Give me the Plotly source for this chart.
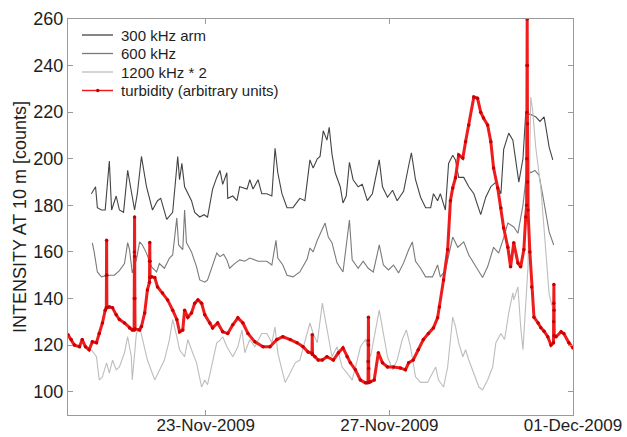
import numpy as np
import pandas as pd
import plotly.graph_objects as go

# ---- data (time in day-of-November 2009, fractional) ----
a300_day = [20.51, 20.60, 20.64, 20.73, 20.81, 20.90, 20.95, 21.01, 21.05, 21.12, 21.21, 21.30, 21.36, 21.45, 21.51,
            21.60, 21.71, 21.84, 21.95, 22.02, 22.15, 22.28, 22.39, 22.43, 22.48, 22.54, 22.69, 22.76, 22.87, 22.96,
            23.04, 23.15, 23.24, 23.31, 23.37, 23.46, 23.48, 23.59, 23.68, 23.74, 23.90, 23.96, 24.03, 24.14, 24.22,
            24.33, 24.44, 24.51, 24.57, 24.66, 24.77, 24.90, 25.05, 25.16, 25.27, 25.34, 25.43, 25.49, 25.56, 25.64,
            25.69, 25.75, 25.82, 25.93, 25.99, 26.06, 26.13, 26.21, 26.32, 26.41, 26.52, 26.63, 26.78, 26.85, 26.96,
            27.07, 27.17, 27.31, 27.42, 27.48, 27.57, 27.68, 27.79, 27.90, 27.96, 28.05, 28.11, 28.22, 28.29, 28.38,
            28.44, 28.51, 28.62, 28.73, 28.84, 28.99, 29.10, 29.21, 29.32, 29.43, 29.49, 29.60, 29.69, 29.75, 29.82,
            29.91, 29.97, 30.08, 30.19, 30.28, 30.37, 30.41, 30.48, 30.56]
a300_val = [185, 188, 179, 178, 178, 199, 178, 182, 184, 178, 177, 195, 188, 178, 185,
            201, 188, 178, 182, 183, 174, 177, 201, 191, 198, 188, 182, 177, 175, 176,
            175, 187, 192, 195, 189, 194, 183, 184, 182, 188, 187, 191, 187, 191, 185,
            185, 184, 204.5, 194, 185, 179, 179, 183, 182, 199.5, 196, 200, 201, 212, 208,
            213.5, 202, 194, 188, 181, 184, 198.5, 191, 188, 189, 182, 185, 199.5, 188, 183.5,
            186.5, 182, 186, 197, 202.5, 191, 183.5, 179, 179, 185, 182, 185, 178, 198, 201.5,
            199.5, 192, 192, 188, 185, 176, 183.5, 188, 190, 185, 204, 211, 208, 199.5, 190,
            200, 219.5, 219, 218, 216, 218, 213.5, 205, 199.5]

a600_day = [20.53, 20.57, 20.64, 20.73, 20.86, 21.01, 21.12, 21.23, 21.30, 21.34, 21.40, 21.49, 21.56, 21.62, 21.71,
            21.82, 21.93, 21.99, 22.10, 22.21, 22.28, 22.37, 22.41, 22.50, 22.54, 22.58, 22.69, 22.80, 22.87, 22.98,
            23.04, 23.15, 23.24, 23.31, 23.39, 23.46, 23.52, 23.63, 23.74, 23.85, 23.96, 24.14, 24.33, 24.44, 24.53,
            24.57, 24.68, 24.77, 24.90, 25.05, 25.21, 25.27, 25.34, 25.43, 25.54, 25.60, 25.67, 25.75, 25.86, 25.99,
            26.13, 26.19, 26.32, 26.43, 26.54, 26.65, 26.78, 26.87, 26.98, 27.09, 27.20, 27.31, 27.42, 27.50, 27.57,
            27.68, 27.79, 27.94, 28.05, 28.11, 28.22, 28.38, 28.49, 28.62, 28.73, 28.88, 29.03, 29.14, 29.27, 29.38,
            29.49, 29.58, 29.71, 29.80, 29.91, 30.00, 30.08, 30.17, 30.26, 30.34, 30.41, 30.48, 30.58]
a600_val = [163.9, 160, 151.4, 149.3, 150, 150, 152, 155, 164, 161, 151, 156.6, 164.3, 163, 159.5,
            153.6, 151.4, 155, 153, 157.4, 158.7, 174.6, 163, 161, 178, 164, 160, 153.6, 148, 147,
            148, 154.4, 159.5, 158, 159, 156.6, 153, 155, 156.6, 156, 157.4, 156, 156, 154.4, 165,
            157.4, 154.4, 150, 149.3, 151.4, 157, 161.7, 160, 165, 170, 172.4, 166.4, 164, 155.3, 151.4,
            173.7, 156.6, 153, 156, 153, 151.4, 163, 154.4, 152.3, 154.4, 151, 155.3, 160.9, 164.3, 156,
            153, 149.3, 149.3, 154.4, 149.3, 152, 166.4, 162, 164.3, 158.7, 153.6, 149, 153.6, 162, 159.5,
            166, 172.4, 170.7, 168, 180, 196, 194, 195, 193, 184.5, 176, 168.6, 163]

a1200_day = [20.51, 20.62, 20.68, 20.75, 20.84, 20.90, 20.97, 21.05, 21.12, 21.23, 21.30, 21.38, 21.40, 21.49, 21.56,
             21.62, 21.73, 21.89, 21.99, 22.10, 22.21, 22.28, 22.37, 22.43, 22.54, 22.61, 22.69, 22.80, 22.91, 22.98,
             23.04, 23.15, 23.24, 23.31, 23.37, 23.46, 23.59, 23.70, 23.79, 23.85, 23.96, 24.07, 24.22, 24.33, 24.44,
             24.51, 24.57, 24.66, 24.73, 24.84, 24.95, 25.05, 25.16, 25.27, 25.34, 25.43, 25.54, 25.60, 25.64, 25.75,
             25.86, 25.97, 26.08, 26.19, 26.30, 26.37, 26.48, 26.59, 26.78, 26.87, 26.96, 27.07, 27.17, 27.28, 27.37,
             27.46, 27.57, 27.68, 27.83, 27.94, 28.01, 28.07, 28.18, 28.27, 28.38, 28.44, 28.51, 28.60, 28.66, 28.73,
             28.84, 28.95, 29.03, 29.14, 29.25, 29.32, 29.43, 29.51, 29.60, 29.69, 29.71, 29.80, 29.86, 29.91, 30.02,
             30.08, 30.12, 30.19, 30.30, 30.39, 30.43, 30.48, 30.54]
a1200_val = [118, 115, 105, 106.4, 112.4, 108, 113.6, 109.4, 110.6, 116.7, 123.6, 115, 105, 125, 127.8,
             122.4, 113.6, 105, 109.4, 113.6, 122.4, 131, 123.6, 118, 115, 122.4, 118, 112.4, 102, 105,
             103, 112.4, 121, 122, 123.6, 119.3, 115, 119.3, 126.5, 116.7, 122.4, 119.3, 125, 125, 121,
             127.8, 116.7, 109.4, 104, 108, 112.4, 113.6, 121, 129.5, 125, 121, 138, 131, 128, 115,
             119.3, 110.6, 108, 105, 113.6, 119.3, 122.4, 115, 135, 125, 115, 109.4, 113.6, 122.4, 126.5,
             119.3, 106.4, 104, 104, 108, 110.6, 105, 102, 110.6, 132, 128, 121, 115, 118, 113.6,
             108, 102, 100.8, 105, 110.6, 121, 125, 122.4, 133.8, 142.4, 139.4, 145, 128, 118, 153.6,
             226.5, 221, 204.6, 187.5, 165, 155, 142, 137]

turb_day = [20.00, 20.07, 20.14, 20.25, 20.31, 20.38, 20.46, 20.53, 20.62, 20.68, 20.75, 20.81,
            20.835, 20.838, 20.841, 20.844, 20.847,
            20.90, 20.97, 21.05, 21.12, 21.23, 21.34, 21.40,
            21.440, 21.444, 21.447, 21.450, 21.453, 21.456, 21.460,
            21.56, 21.60, 21.67, 21.73,
            21.775, 21.778, 21.781, 21.784, 21.787,
            21.82, 21.89, 21.95, 22.06, 22.17, 22.28, 22.37, 22.43, 22.50, 22.54, 22.61, 22.69, 22.76, 22.83,
            22.91, 22.98, 23.09, 23.15, 23.26, 23.37, 23.48, 23.59, 23.70, 23.81, 23.92, 24.07, 24.25, 24.40,
            24.55, 24.68, 24.84, 24.99, 25.12, 25.23,
            25.315, 25.320, 25.325,
            25.38, 25.45, 25.54, 25.64, 25.78, 25.89, 25.99, 26.08, 26.15, 26.26, 26.37, 26.48,
            26.535, 26.538, 26.541, 26.544, 26.547, 26.550, 26.553,
            26.59, 26.67, 26.76, 26.85, 26.96, 27.09, 27.24, 27.35, 27.42, 27.52, 27.63, 27.74, 27.85, 27.96,
            28.05, 28.09, 28.18, 28.27, 28.33, 28.38, 28.44, 28.51, 28.60, 28.66, 28.73, 28.84, 28.92, 28.99,
            29.05, 29.14, 29.21, 29.27, 29.36, 29.43, 29.49, 29.58, 29.64, 29.71, 29.80, 29.86, 29.93, 29.97,
            29.990, 29.993, 29.996, 29.999, 30.002, 30.005, 30.008, 30.011,
            30.02, 30.06, 30.10, 30.15, 30.24, 30.30, 30.37, 30.45, 30.52,
            30.575, 30.578, 30.581, 30.584, 30.587, 30.590,
            30.63, 30.74, 30.80, 30.91, 31.00]
turb_val = [124.4, 122.4, 120, 119.3, 122.4, 119.3, 118, 121.4, 121, 125, 129.5, 135,
            136, 150, 165, 150, 136,
            136.4, 136, 133, 131, 129.5, 127.4, 126.5,
            126.5, 140, 160, 175, 158, 140, 127,
            126.5, 128, 133.8, 143.7,
            147, 156, 164, 156, 149,
            149.3, 149, 145, 142.4, 139.4, 135, 131, 125.7, 126.5, 135, 132, 133.8, 138, 139.4,
            138, 133, 129.5, 127.4, 129.5, 125.7, 125, 128.7, 131.7, 129.5, 125, 121.4, 119.3, 119.3,
            122.4, 123.6, 122.4, 121, 119.3, 117,
            116.5, 124.4, 116,
            115, 113.6, 113.6, 115, 113.6, 116.7, 118.8, 115, 112.4, 109.4, 105, 103.8,
            104, 113, 122, 132, 120, 110, 104,
            104.3, 105, 116.7, 112.4, 110.6, 110.6, 110.2, 109.4, 112.4, 113.6, 118, 122.4, 125, 127.4,
            131.7, 136.4, 148, 161, 182, 187.5, 191.8, 201.6, 200.3, 207.3, 214.5, 226.5, 226, 220,
            217.5, 214.5, 207.3, 196, 187.5, 178.9, 170.3, 162, 153.6, 163.9, 155.3, 153.6, 161, 175,
            180, 200, 220, 240, 260, 240, 215, 190,
            178, 160, 145, 132, 129.5, 127.5, 126, 123.6, 120,
            121, 130, 138, 146, 135, 124,
            123.6, 125.7, 125, 121, 118.8]

x_tick_days = [23, 27, 31]
x_tick_text = ["23-Nov-2009", "27-Nov-2009", "01-Dec-2009"]
y_ticks = [100, 120, 140, 160, 180, 200, 220, 240, 260]
series_names = ["300 kHz arm", "600 kHz", "1200 kHz * 2", "turbidity (arbitrary units)"]
series_colors = ["#444444", "#7a7a7a", "#bdbdbd", "#ee1c1c"]


def to_dt(days):
    return pd.Timestamp("2009-11-01") + pd.to_timedelta(np.array(days, dtype=float) - 1.0, unit="D")


FONT = "Liberation Sans, Arial, Helvetica, sans-serif"
TXT = "#1e1e1e"

fig = go.Figure()
fig.add_trace(go.Scatter(x=to_dt(a300_day), y=a300_val, mode="lines", name=series_names[0],
                         line=dict(color=series_colors[0], width=1.1)))
fig.add_trace(go.Scatter(x=to_dt(a600_day), y=a600_val, mode="lines", name=series_names[1],
                         line=dict(color=series_colors[1], width=1.1)))
fig.add_trace(go.Scatter(x=to_dt(a1200_day), y=a1200_val, mode="lines", name=series_names[2],
                         line=dict(color=series_colors[2], width=1.1)))
fig.add_trace(go.Scatter(x=to_dt(turb_day), y=turb_val, mode="lines+markers", name=series_names[3],
                         line=dict(color=series_colors[3], width=3),
                         marker=dict(color="#c80000", size=3.5)))

axis_common = dict(showline=True, linecolor="#9a9a9a", linewidth=1.3, mirror="ticks",
                   ticks="inside", ticklen=5, tickcolor="#9a9a9a", showgrid=False, zeroline=False,
                   automargin=False)

# ---- hand-placed legend (paper coordinates of the plot area) ----
PL, PW, PT, PH = 68, 505, 19, 396  # plot area in px


def px_x(px):
    return (px - PL) / PW


def px_y(py):
    return 1 - (py - PT) / PH


shapes = []
annotations = []
legend_rows = [35, 53.5, 72, 90.5]
for name, col, row in zip(series_names, series_colors, legend_rows):
    lw = 1.3 if col != series_colors[3] else 1.5
    shapes.append(dict(type="line", xref="paper", yref="paper", x0=px_x(82), x1=px_x(113),
                       y0=px_y(row), y1=px_y(row), line=dict(color=col, width=lw)))
    annotations.append(dict(text=name, xref="paper", yref="paper", x=px_x(119), y=px_y(row),
                            xanchor="left", yanchor="middle", showarrow=False,
                            font=dict(family=FONT, size=15, color=TXT)))
shapes.append(dict(type="circle", xref="paper", yref="paper",
                   x0=px_x(96), x1=px_x(99.5), y0=px_y(legend_rows[3] + 1.75), y1=px_y(legend_rows[3] - 1.75),
                   fillcolor="#c80000", line=dict(width=0)))

annotations.append(dict(text="INTENSITY AT 10 m [counts]", textangle=-90, xref="paper", yref="paper",
                        x=px_x(20), y=0.5, xanchor="center", yanchor="middle", showarrow=False,
                        font=dict(family=FONT, size=18, color=TXT)))

fig.update_layout(
    width=627, height=437,
    margin=dict(l=PL, r=627 - PL - PW, t=PT, b=437 - PT - PH),
    paper_bgcolor="white", plot_bgcolor="white",
    font=dict(family=FONT, size=18, color=TXT),
    xaxis=dict(type="date", range=[to_dt([20.0])[0], to_dt([31.0])[0]],
               tickvals=list(to_dt(x_tick_days)), ticktext=x_tick_text, ticklabelstandoff=-6,
               tickfont=dict(family=FONT, size=17, color=TXT), **axis_common),
    yaxis=dict(range=[90, 260], tickvals=y_ticks,
               tickfont=dict(family=FONT, size=18, color=TXT), **axis_common),
    showlegend=False,
    shapes=shapes,
    annotations=annotations,
)

fig.write_html("out.html")
